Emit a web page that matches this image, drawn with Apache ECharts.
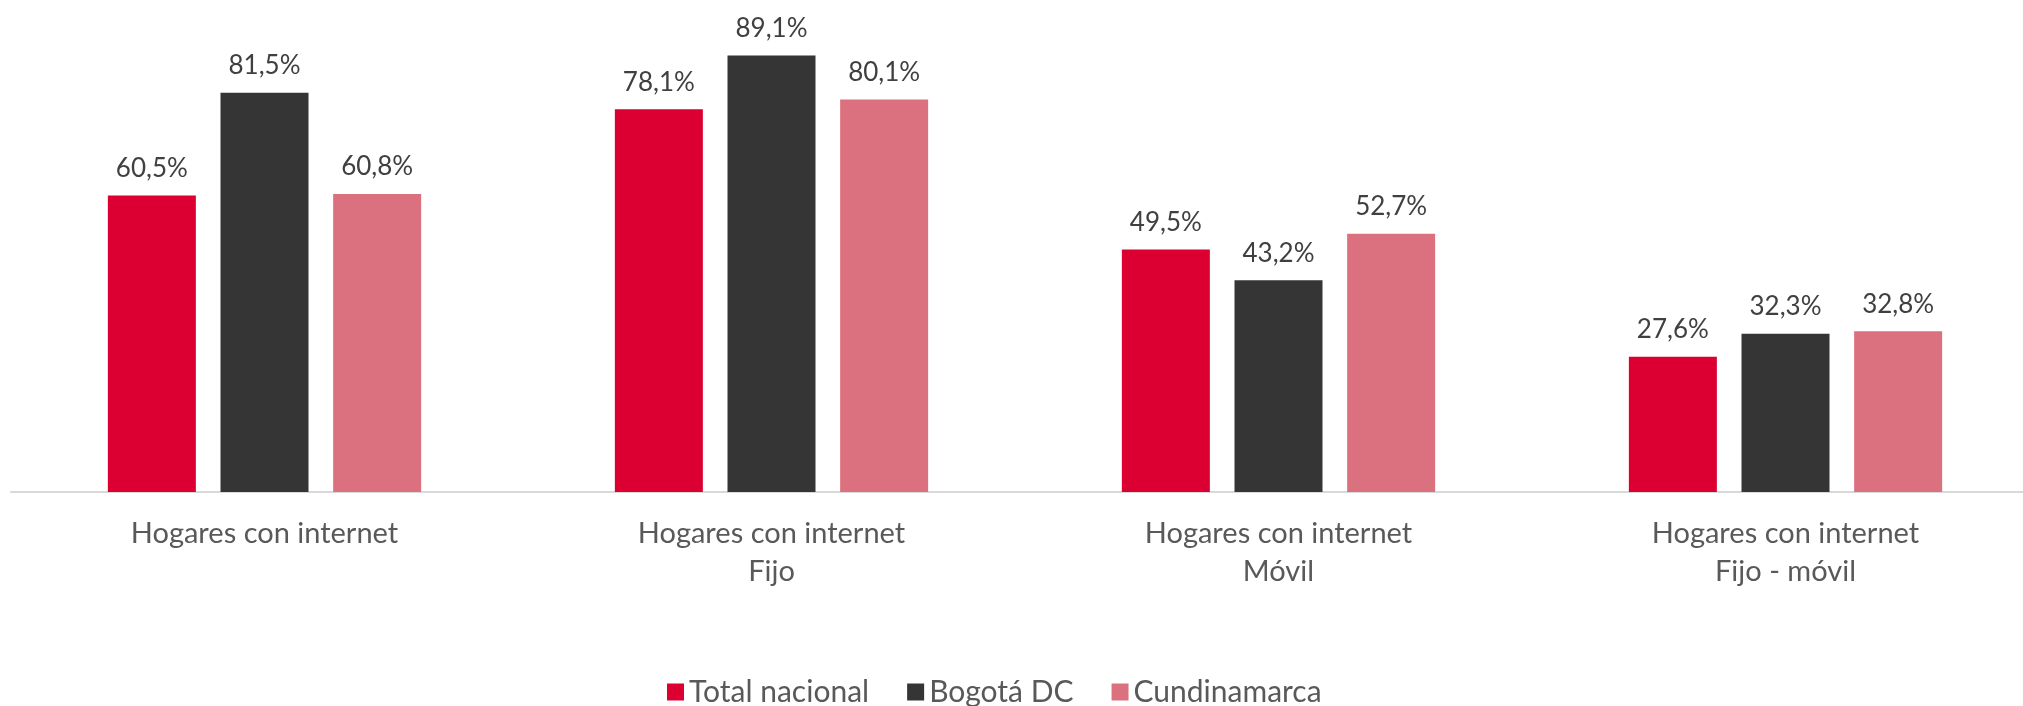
<!DOCTYPE html>
<html>
<head>
<meta charset="utf-8">
<script src="https://cdn.jsdelivr.net/npm/echarts@6/dist/echarts.min.js"></script>
<style>
  html, body { margin: 0; padding: 0; background: #fff; }
  #main { width: 2023px; height: 706px; }
</style>
</head>
<body>
<div id="main"></div>
<script>
// categorias del eje x
const categorias = ['Hogares con internet', 'Hogares con internet\nFijo', 'Hogares con internet\nMóvil', 'Hogares con internet\nFijo - móvil'];
// valores en %
const totalNacional = [60.5, 78.1, 49.5, 27.6];
const bogota = [81.5, 89.1, 43.2, 32.3];
const cundinamarca = [60.8, 80.1, 52.7, 32.8];
const nombres = ['Total nacional', 'Bogotá DC', 'Cundinamarca'];
const colores = ['#DC0032', '#363535', '#DB717F'];

const FONT = 'Lato';

function serie(nombre, datos, color) {
  return {
    name: nombre,
    type: 'bar',
    data: datos,
    barWidth: 88,
    barGap: '28%',
    itemStyle: { color: color },
    label: {
      show: true,
      position: 'top',
      distance: 14,
      color: '#404040',
      fontFamily: FONT,
      fontSize: 26,
      formatter: p => p.value.toFixed(1).replace('.', ',') + '%'
    }
  };
}

const chart = echarts.init(document.getElementById('main'));
chart.setOption({
  animation: false,
  textStyle: { fontFamily: FONT },
  grid: { left: 11, top: 2, right: -16, height: 490, outerBoundsMode: 'none', containLabel: false },
  legend: {
    data: nombres,
    left: 662,
    top: 672,
    itemWidth: 17,
    itemHeight: 17,
    itemGap: 38,
    icon: 'rect',
    textStyle: { color: '#595959', fontSize: 30, fontFamily: FONT }
  },
  xAxis: {
    type: 'category',
    data: categorias,
    axisLine: { lineStyle: { color: '#D9D9D9', width: 2 } },
    axisTick: { show: false },
    axisLabel: {
      color: '#595959',
      fontSize: 29,
      fontFamily: FONT,
      lineHeight: 38,
      margin: 23,
      interval: 0
    }
  },
  yAxis: {
    type: 'value',
    min: 0,
    max: 100,
    show: false,
    splitLine: { show: false }
  },
  series: [
    serie(nombres[0], totalNacional, colores[0]),
    serie(nombres[1], bogota, colores[1]),
    serie(nombres[2], cundinamarca, colores[2])
  ]
});
</script>
</body>
</html>
